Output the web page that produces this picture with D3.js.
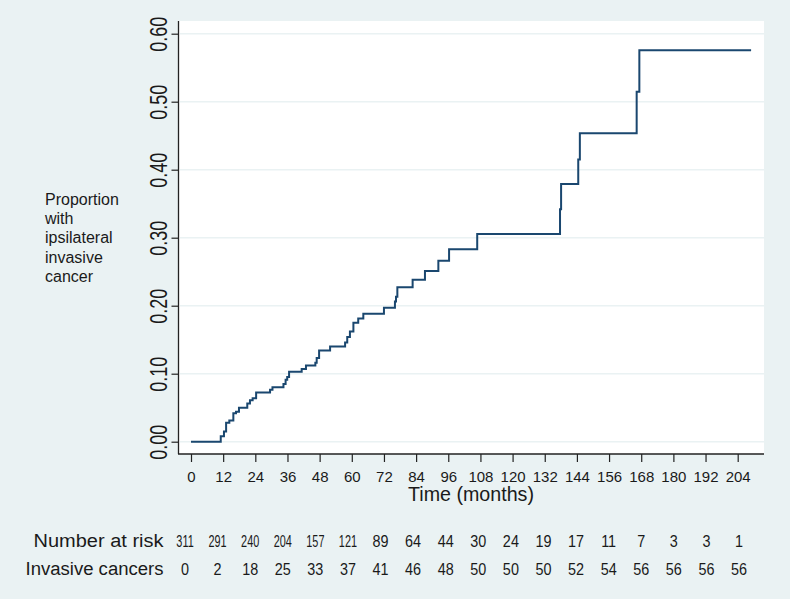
<!DOCTYPE html>
<html><head><meta charset="utf-8">
<script src="https://cdn.jsdelivr.net/npm/d3@7"></script>
<style>html,body{margin:0;padding:0;background:#fff;}</style>
</head><body>
<svg id="chart" width="790" height="599"></svg>
<script>
// ---- data ----
const stepTimes = [0, 11.1, 12.3, 13.1, 14.3, 15.8, 16.8, 17.9, 21.0, 22.0, 23.0, 24.3, 29.5, 30.4, 34.5, 35.3, 35.9, 36.6, 41.3, 42.9, 46.4, 46.9, 47.8, 51.9, 57.5, 58.3, 59.3, 60.6, 62.4, 64.3, 72.0, 76.1, 76.5, 77.0, 82.7, 87.3, 92.3, 96.3, 106.8, 137.7, 138.1, 144.5, 145.1, 166.3, 167.3, 209];
const stepValues = [0, 0.008, 0.015, 0.028, 0.031, 0.042, 0.044, 0.050, 0.056, 0.061, 0.064, 0.0725, 0.0765, 0.080, 0.085, 0.091, 0.095, 0.103, 0.107, 0.112, 0.116, 0.123, 0.134, 0.140, 0.146, 0.154, 0.162, 0.175, 0.181, 0.188, 0.197, 0.206, 0.213, 0.227, 0.238, 0.251, 0.266, 0.283, 0.3055, 0.342, 0.379, 0.415, 0.4535, 0.5147, 0.5755, 0.5755];
const xTicks = [0, 12, 24, 36, 48, 60, 72, 84, 96, 108, 120, 132, 144, 156, 168, 180, 192, 204];
const yTicks = [0, 0.1, 0.2, 0.3, 0.4, 0.5, 0.6];
const numberAtRisk = [311, 291, 240, 204, 157, 121, 89, 64, 44, 30, 24, 19, 17, 11, 7, 3, 3, 1];
const invasiveCancers = [0, 2, 18, 25, 33, 37, 41, 46, 48, 50, 50, 50, 52, 54, 56, 56, 56, 56];
const yTitleLines = ["Proportion", "with", "ipsilateral", "invasive", "cancer"];
const xTitle = "Time (months)";
const rowLabels = ["Number at risk", "Invasive cancers"];

// ---- layout ----
const BG = "#EAF2F3", LINE = "#1a476f", TXT = "#1a1a1a";
const plotL = 179, plotR = 764, plotT = 21, plotB = 454;
const svg = d3.select("#chart");
const font = "'Liberation Sans', Arial, Helvetica, sans-serif";

svg.append("rect").attr("x", 0).attr("y", 0).attr("width", 790).attr("height", 599).attr("fill", BG);
svg.append("rect").attr("x", plotL).attr("y", plotT).attr("width", plotR - plotL).attr("height", plotB - plotT).attr("fill", "#fff");

const x = d3.scaleLinear().domain([0, 204]).range([191, 737.7]);
const y = d3.scaleLinear().domain([0, 0.6]).range([441.7, 33.7]);
const tableX = d3.scaleLinear().domain([0, 204]).range([185, 739]);

// gridlines
svg.append("g").selectAll("line").data(yTicks).join("line")
  .attr("x1", plotL + 1).attr("x2", plotR)
  .attr("y1", d => y(d)).attr("y2", d => y(d))
  .attr("stroke", BG).attr("stroke-width", 1.6);

// step line
const data = stepTimes.map((t, i) => [t, stepValues[i]]);
svg.append("path").datum(data)
  .attr("fill", "none").attr("stroke", LINE).attr("stroke-width", 2)
  .attr("d", d3.line().x(d => x(d[0])).y(d => y(d[1])).curve(d3.curveStepAfter));

// y axis
const yAxis = svg.append("g").attr("transform", `translate(${plotL - 0.5},0)`)
  .call(d3.axisLeft(y).tickValues(yTicks).tickSize(7).tickSizeOuter(0).tickFormat(d3.format(".2f")));
yAxis.select(".domain").remove();
yAxis.selectAll(".tick line").attr("stroke", "#222").attr("stroke-width", 1.2);
yAxis.selectAll(".tick text")
  .attr("x", null).attr("dy", null)
  .attr("transform", "translate(-11.5,0) rotate(-90)")
  .attr("text-anchor", "middle")
  .attr("font-family", font).attr("font-size", 23).attr("fill", TXT)
  .attr("textLength", 35).attr("lengthAdjust", "spacingAndGlyphs");
svg.append("line").attr("x1", plotL - 0.5).attr("x2", plotL - 0.5).attr("y1", plotT).attr("y2", plotB)
  .attr("stroke", "#222").attr("stroke-width", 1.3);

// x axis
const xAxis = svg.append("g").attr("transform", `translate(0,${plotB})`)
  .call(d3.axisBottom(x).tickValues(xTicks).tickSize(8).tickSizeOuter(0).tickPadding(9));
xAxis.select(".domain").remove();
xAxis.selectAll(".tick line").attr("stroke", "#222").attr("stroke-width", 1.2);
xAxis.selectAll(".tick text").attr("font-family", font).attr("font-size", 15).attr("fill", TXT).attr("dy", "0.71em");
svg.append("line").attr("x1", plotL - 1).attr("x2", plotR).attr("y1", plotB).attr("y2", plotB)
  .attr("stroke", "#222").attr("stroke-width", 1.3);

// axis titles
svg.append("text").attr("x", 471).attr("y", 501).attr("text-anchor", "middle")
  .attr("font-family", font).attr("font-size", 20).attr("fill", TXT)
  .attr("textLength", 126).attr("lengthAdjust", "spacingAndGlyphs").text(xTitle);

svg.append("g").selectAll("text").data(yTitleLines).join("text")
  .attr("x", 45).attr("y", (d, i) => 205 + i * 19.2)
  .attr("font-family", font).attr("font-size", 16).attr("fill", TXT).text(d => d);

// at-risk table
const rowY = [546.5, 575];
svg.append("g").selectAll("text").data(rowLabels).join("text")
  .attr("x", 163.5).attr("y", (d, i) => rowY[i]).attr("text-anchor", "end")
  .attr("font-family", font).attr("font-size", 18).attr("fill", TXT)
  .attr("textLength", (d, i) => i === 0 ? 130 : 138).attr("lengthAdjust", "spacingAndGlyphs")
  .text(d => d);

svg.append("g").selectAll("text").data(numberAtRisk).join("text")
  .attr("transform", (d, i) => `translate(${tableX(xTicks[i])},${rowY[0]}) scale(${String(d).length > 2 ? 0.68 : 0.9},1)`)
  .attr("text-anchor", "middle")
  .attr("font-family", font).attr("font-size", 16).attr("fill", TXT).text(d => d);

svg.append("g").selectAll("text").data(invasiveCancers).join("text")
  .attr("transform", (d, i) => `translate(${tableX(xTicks[i])},${rowY[1]}) scale(0.9,1)`)
  .attr("text-anchor", "middle")
  .attr("font-family", font).attr("font-size", 16).attr("fill", TXT).text(d => d);
</script>
</body></html>
